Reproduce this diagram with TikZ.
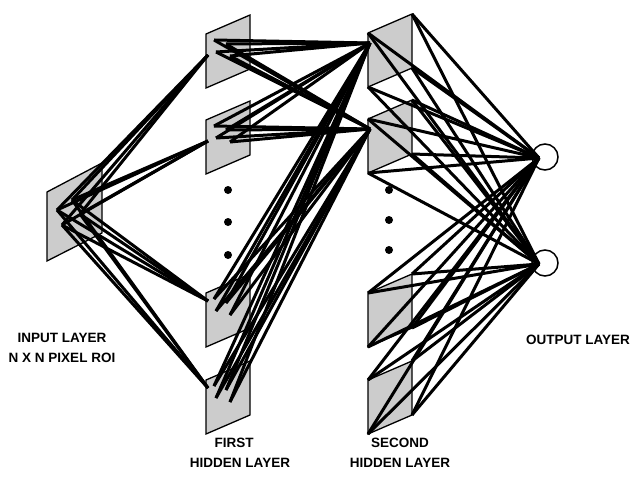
\documentclass[tikz,border=0pt]{standalone}
\usepackage{fontspec}
\setmainfont{Liberation Sans}
\usepackage{tikz}

\tikzset{
  plane/.style={fill=black!20, draw=black, line width=1.3pt},
  link/.style={line width=3pt, line join=round},
  lbl/.style={font=\bfseries\fontsize{13.5}{16}\selectfont, inner sep=0pt},
  unit/.style={circle, draw, line width=1.5pt, minimum size=26pt, inner sep=0pt}
}

\begin{document}
\begin{tikzpicture}[x=1pt,y=-1pt]
    \useasboundingbox (0,0) rectangle (637,487);

    % input plane and its receptive field
    \filldraw[plane] (47,192) -- (102,163) -- (102,233) -- (47,261) -- cycle;
    \foreach \s/\x/\y in {a/57/210, b/72/200, c/62/225, d/80/214}
        \coordinate (in\s) at (\x,\y);

    % first hidden layer
    \foreach \i/\y/\t in {1/34/21, 2/120/21, 3/293/8, 4/380/8} {
        \filldraw[plane] (206,\y) -- (250,\y-19) -- (250,\y+35) -- (206,\y+54) -- cycle;
        \coordinate (t\i) at (208,\y+\t);
        \coordinate (h\i a) at (214,\y+6);
        \coordinate (h\i b) at (226,\y+10);
        \coordinate (h\i c) at (216,\y+18);
        \coordinate (h\i d) at (230,\y+22);
    }

    % second hidden layer
    \foreach \j/\y in {1/33, 2/119, 3/293, 4/380} {
        \filldraw[plane] (368,\y) -- (412,\y-19) -- (412,\y+35) -- (368,\y+54) -- cycle;
        \coordinate (u\j) at (370,\y+10);
        \coordinate (s\j lt) at (368,\y);
        \coordinate (s\j rt) at (412,\y-19);
        \coordinate (s\j rb) at (412,\y+35);
        \coordinate (s\j lb) at (368,\y+54);
    }

    % output layer
    \node[unit] (o1) at (545,157) {};
    \node[unit] (o2) at (545,263) {};
    \coordinate (e1) at (539,158);
    \coordinate (e2) at (539,264);

    % connections
    \foreach \i in {1,...,4}
        \foreach \s in {a,b,c,d}
            \draw[link] (in\s) -- (t\i);

    \foreach \i in {1,...,4}
        \foreach \j in {1,2}
            \foreach \s in {a,b,c,d}
                \draw[link] (h\i\s) -- (u\j);

    \foreach \j in {1,...,4}
        \foreach \c in {lt,rt,rb,lb}
            \foreach \k in {1,2}
                \draw[link] (s\j\c) -- (e\k);

    % dots for the omitted units
    \foreach \y in {190,222,255}
        \fill (228,\y) circle (4);
    \foreach \y in {190,220,250}
        \fill (389,\y) circle (4);

    % labels
    \node[lbl] (inlbl) at (62,338) {INPUT LAYER};
    \node[lbl] (roilbl) at (62,358) {N X N PIXEL ROI};
    \node[lbl] (firstlbl) at (234,443) {FIRST};
    \node[lbl] (h1lbl) at (240,463) {HIDDEN LAYER};
    \node[lbl] (secondlbl) at (400,443) {SECOND};
    \node[lbl] (h2lbl) at (400,463) {HIDDEN LAYER};
    \node[lbl] (outlbl) at (578,340) {OUTPUT LAYER};
\end{tikzpicture}
\end{document}
